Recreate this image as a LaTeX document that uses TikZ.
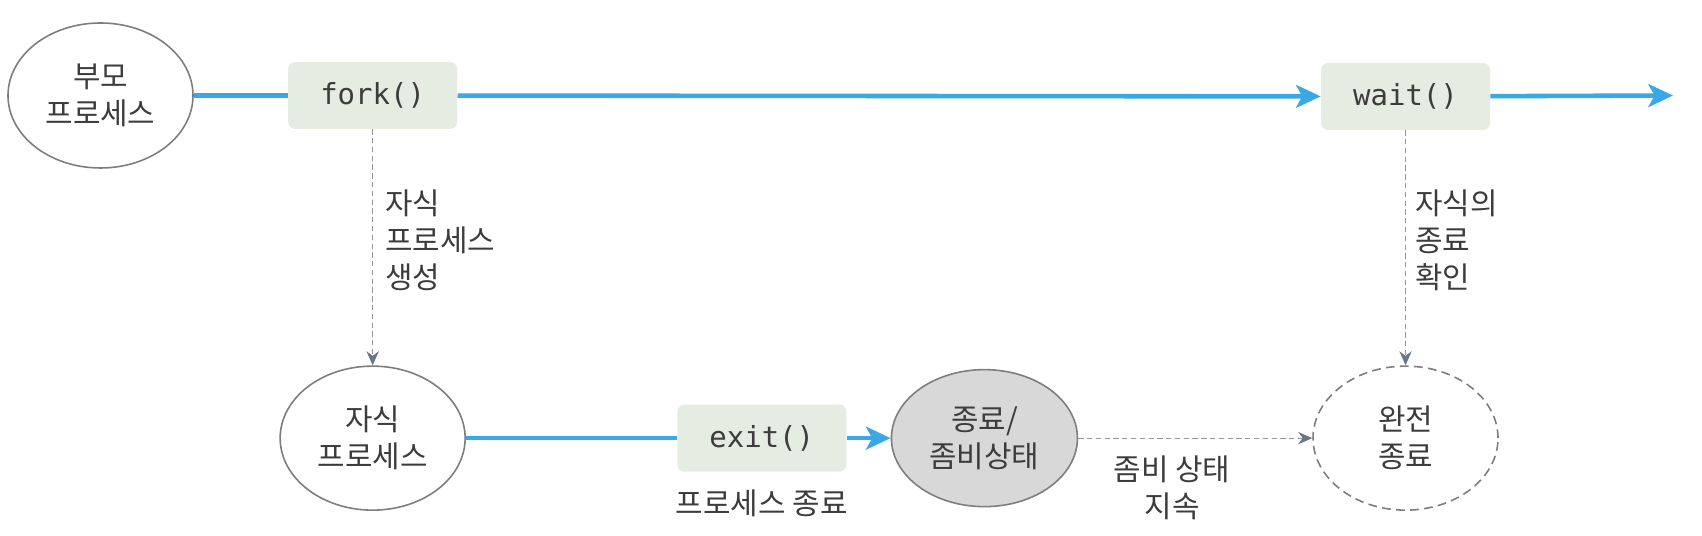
\documentclass[tikz,border=0pt]{standalone}
\usepackage{fontspec}
\setmainfont{Noto Sans CJK KR}
\setmonofont{DejaVu Sans Mono}
\usepackage{xcolor}
\usepackage{tikz}
\usetikzlibrary{positioning, shapes.geometric, arrows.meta}
\definecolor{flowblue}{RGB}{59,168,230}
\definecolor{callbg}{RGB}{229,237,226}
\definecolor{ellgray}{RGB}{125,125,125}
\definecolor{zombiebg}{RGB}{216,216,216}
\definecolor{hintgray}{RGB}{150,150,150}
\definecolor{tipgray}{RGB}{105,118,138}
\definecolor{txt}{RGB}{60,60,60}

\begin{document}
\begin{tikzpicture}[>={Stealth[length=14pt,width=13pt,inset=3.5pt]},
  proc/.style={ellipse, draw=ellgray, line width=0.9pt, minimum width=3.7cm,
    minimum height=2.88cm, inner sep=0pt, align=center, text=txt,
    font=\fontsize{17}{21}\selectfont},
  call/.style={rectangle, rounded corners=4pt, fill=callbg, minimum width=3.38cm,
    minimum height=1.34cm, text=txt, font=\ttfamily\fontsize{16.5}{19}\selectfont},
  note/.style={inner sep=0pt, align=left, text=txt, font=\fontsize{17}{21}\selectfont},
  flow/.style={draw=flowblue, line width=2.6pt},
  hint/.style={draw=hintgray, line width=0.7pt, dash pattern=on 3pt off 2pt,
    -{Stealth[length=8pt,width=7pt,color=tipgray]}}]
\useasboundingbox (0,0) rectangle (34.04,10.72);
% Prozesse
\node[proc, minimum height=2.9cm] (parent) at (2.01,8.81) {부모\\프로세스};
\node[call, right=1.88cm of parent] (fork) {fork()};
\node[proc, below=4.72cm of fork] (child) {자식\\프로세스};
\node[call, right=4.22cm of child] (exit) {exit()};
\node[proc, fill=zombiebg, minimum width=3.72cm, minimum height=2.74cm,
  right=0.88cm of exit] (zombie) {종료/\\좀비상태};
\node[proc, dash pattern=on 5pt off 3pt, right=4.68cm of zombie] (done) {완전\\종료};
\node[call, above=4.7cm of done] (wait) {wait()};
\coordinate (out) at (33.46,8.81);
% Beschriftungen
\node[note, anchor=west] (forklbl) at (7.70,5.92) {자식\\프로세스\\생성};
\node[note, anchor=west] (waitlbl) at (28.30,5.92) {자식의\\종료\\확인};
\node[note, align=center, below=0.35cm of exit] (exitlbl) {프로세스 종료};
\node[note, align=center] (zombielbl) at (23.44,0.96) {좀비 상태\\지속};
% Verbindungen
\draw[flow] (parent) -- (fork);
\draw[flow, ->] (fork) -- (wait);
\draw[flow, ->] (wait) -- (out);
\draw[flow] (child) -- (exit);
\draw[flow, ->] (exit) -- (zombie);
\draw[hint] (fork) -- (child);
\draw[hint] (wait) -- (done);
\draw[hint] (zombie) -- (done);
\end{tikzpicture}
\end{document}
